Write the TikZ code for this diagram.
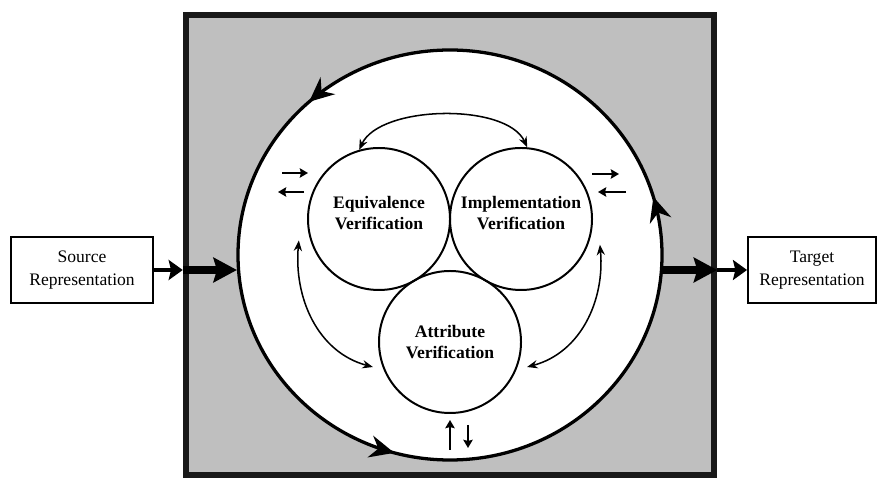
\documentclass[tikz,border=0pt]{standalone}
\usepackage{fontspec}
\setmainfont{Liberation Serif}
\usetikzlibrary{arrows.meta,shapes.geometric,decorations.markings}

\tikzset{
	repbox/.style = {draw, line width=1.6pt, fill=white, minimum height=1.98cm, inner sep=0pt, align=center, font=\fontsize{15}{20}\selectfont},
	bubble/.style = {draw, circle, line width=1.7pt, inner sep=0pt, minimum size=4.26cm, align=center, font=\fontsize{15}{18}\selectfont\bfseries},
	flow/.style = {line width=3.4pt, -{Stealth[length=12pt, width=17pt, inset=2pt]}},
	bigflow/.style = {line width=7pt, -{Stealth[length=20pt, width=21pt, inset=3pt]}},
	swap/.style = {line width=2.1pt, -{Stealth[length=7pt, width=8pt, inset=1pt]}},
	link/.style = {line width=1.3pt, {Stealth[length=9pt, width=7pt]}-{Stealth[length=9pt, width=7pt]}},
	loophead/.style = {line width=2.8pt}
}

\begin{document}
\begin{tikzpicture}[x=0.03cm, y=0.03cm]
	\useasboundingbox (0,0) rectangle (879,481);
	% grey frame and the outer loop
	\node [draw=black!90, line width=5.5pt, fill=gray!50, minimum width=15.84cm, minimum height=13.8cm, inner sep=0pt] (frame) at (450,236) {};
	\node [draw, ellipse, line width=2.8pt, fill=white, minimum width=12.72cm, minimum height=12.3cm, inner sep=0pt,
		postaction={decorate}, decoration={markings,
			mark=at position 0.045 with {\arrow[loophead]{Stealth[length=21pt, width=19pt, inset=7pt]}},
			mark=at position 0.367 with {\arrow[loophead]{Stealth[length=21pt, width=19pt, inset=7pt]}},
			mark=at position 0.707 with {\arrow[loophead]{Stealth[length=21pt, width=19pt, inset=7pt]}}}] (loop) at (450,226) {};

	% the three checks
	\node [bubble, text depth=10pt] (equiv) at (379,262) {Equivalence\\Verification};
	\node [bubble, text depth=10pt] (impl) at (521,262) {Implementation\\Verification};
	\node [bubble] (attr) at (450,139) {Attribute\\Verification};

	% representations
	\node [repbox, minimum width=4.26cm] (src) at (82,211) {Source\\Representation};
	\node [repbox, minimum width=3.84cm] (tgt) at (812,211) {Target\\Representation};

	\draw [flow] (src) -- (src -| frame.west);
	\draw [bigflow] (frame.west |- src) -- (src -| loop.184);
	\draw [bigflow] (tgt -| loop.356) -- (tgt -| frame.east);
	\draw [flow] (frame.east |- tgt) -- (tgt);

	% links between the checks
	\draw [link] (equiv.106) to [out=65, in=115, looseness=0.75] (impl.85);
	\draw [link] ([shift={(195:11)}]equiv.195) to [out=265, in=165] ([shift={(198:9)}]attr.198);
	\draw [link] ([shift={(342:11)}]impl.342) to [out=275, in=15] ([shift={(342:9)}]attr.342);

	% exchange marks
	\coordinate (lswap) at (293,298);
	\coordinate (rswap) at (609,298);
	\coordinate (bswap) at (459,45);
	\draw [swap] ([shift={(-11,10)}]lswap) -- ([shift={(15,10)}]lswap);
	\draw [swap] ([shift={(11,-9)}]lswap) -- ([shift={(-15,-9)}]lswap);
	\draw [swap] ([shift={(-17,9)}]rswap) -- ([shift={(10,9)}]rswap);
	\draw [swap] ([shift={(17,-9)}]rswap) -- ([shift={(-11,-9)}]rswap);
	\draw [swap] ([shift={(-9,-14)}]bswap) -- ([shift={(-9,16)}]bswap);
	\draw [swap] ([shift={(9,11)}]bswap) -- ([shift={(9,-12)}]bswap);
\end{tikzpicture}
\end{document}
